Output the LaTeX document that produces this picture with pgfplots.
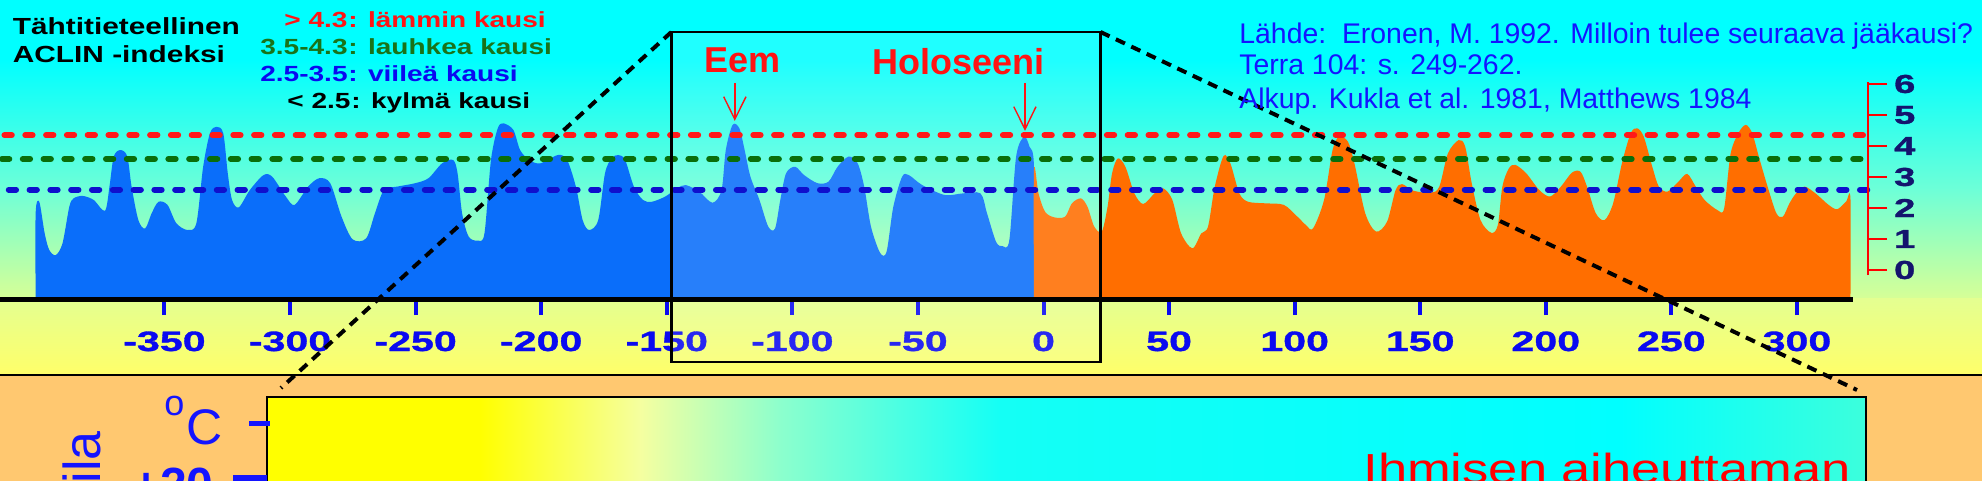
\documentclass[border=0pt]{standalone}
\usepackage{fontspec}
\setmainfont{Liberation Sans}
\newfontfamily\wideA{Liberation Sans}[FakeStretch=1.28]
\newfontfamily\wideB{Liberation Sans}[FakeStretch=1.47, FakeBold=1.2]
\newfontfamily\wideC{Liberation Sans}[FakeStretch=1.25]
\usepackage{pgfplots}
\pgfplotsset{compat=1.18}

\definecolor{cyanbg}{RGB}{0,255,255}
\definecolor{bgB}{RGB}{110,255,215}
\definecolor{bgC}{RGB}{215,255,150}
\definecolor{bgD}{RGB}{228,255,145}
\definecolor{bgE}{RGB}{255,255,105}
\definecolor{peach}{RGB}{255,200,112}
\definecolor{pyellow}{RGB}{255,255,0}
\definecolor{fillblue}{RGB}{10,110,250}
\definecolor{fillorange}{RGB}{255,110,0}
\definecolor{lred}{RGB}{255,25,25}
\definecolor{lgreen}{RGB}{10,110,10}
\definecolor{lblue}{RGB}{15,15,205}
\definecolor{tickblue}{RGB}{10,10,240}
\definecolor{txtblue}{RGB}{20,20,255}
\definecolor{navy}{RGB}{20,20,110}
\definecolor{legred}{RGB}{255,20,20}
\definecolor{leggreen}{RGB}{25,115,25}
\definecolor{ibA}{RGB}{245,255,160}
\definecolor{ibB}{RGB}{140,255,205}
\definecolor{ibC}{RGB}{20,255,245}
\definecolor{ibD}{RGB}{60,255,220}
\definecolor{pred}{RGB}{255,0,0}

\begin{document}
\begin{tikzpicture}
\useasboundingbox (0,0) rectangle (991pt,-240.5pt);
\clip (0,0) rectangle (991pt,-240.5pt);
% ---------- backgrounds (pixel coordinates) ----------
\begin{scope}[x=0.5pt,y=-0.5pt]
\fill[cyanbg] (0,0) rectangle (1982,60);
\shade[top color=cyanbg, bottom color=bgB] (0,59.5) rectangle (1982,190);
\shade[top color=bgB, bottom color=bgC] (0,189.5) rectangle (1982,299);
\shade[top color=bgD, bottom color=bgE] (0,298.5) rectangle (1982,375);
\fill[peach] (0,375) rectangle (1982,481);
\draw[black, line width=0.8pt] (0,375) -- (1982,375);
% inner box of the lower panel
\fill[pyellow] (267,397) rectangle (481,485);
\shade[left color=pyellow, right color=ibA] (480,397) rectangle (641,485);
\shade[left color=ibA, right color=ibB] (640,397) rectangle (781,485);
\shade[left color=ibB, right color=ibC] (780,397) rectangle (1001,485);
\shade[left color=ibC, right color=cyanbg] (1000,397) rectangle (1621,485);
\shade[left color=cyanbg, right color=ibD] (1620,397) rectangle (1866,485);
\draw[black, line width=0.7pt] (267,490) -- (267,397) -- (1866,397) -- (1866,490);
% lower panel texts
\node[rotate=90, anchor=base east, inner sep=0, text=txtblue, font=\fontsize{26}{26}\selectfont] at (100,431) {Lämpötila};
\node[anchor=base west, inner sep=0, text=txtblue, font=\fontsize{18}{18}\selectfont] at (164,415) {o};
\node[anchor=base west, inner sep=0, text=txtblue, font=\fontsize{25}{25}\selectfont] at (186,444) {C};
\fill[txtblue] (249,421) rectangle (270,426);
\fill[txtblue] (233,475) rectangle (267,485);
\node[anchor=base east, inner sep=0, text=txtblue, font=\bfseries\fontsize{24}{24}\selectfont] at (214,501) {+20};
\node[anchor=base west, inner sep=0, text=pred, font=\wideC\fontsize{21}{21}\selectfont] at (1363,483) {Ihmisen aiheuttaman};
\end{scope}

% ---------- main ACLIN axis ----------
\begin{axis}[
  at={(0pt,-149.5pt)}, anchor=south west,
  scale only axis, width=991pt, height=149.5pt,
  xmin=-415.49, xmax=373.68, ymin=-0.9355, ymax=8.7097,
  clip=false,
  axis x line*=bottom, axis y line=none,
  x axis line style={draw=none},
  xtick={-350,-300,-250,-200,-150,-100,-50,0,50,100,150,200,250,300},
  xticklabels={-350,-300,-250,-200,-150,-100,-50,0,50,100,150,200,250,300},
  xtick style={draw=tickblue, line width=2pt},
  tick align=outside, major tick length=8pt,
  xticklabel style={font=\wideB\bfseries\fontsize{14}{14}\selectfont, text=tickblue, anchor=base, yshift=-18pt},
]
% past index, blue
\addplot[fill=fillblue, draw=none, smooth, tension=0.5] coordinates {
(-401.3,-0.9) (-401.3,1.83) (-399.85,2.20) (-397.7,1.18) (-395.9,0.65) (-393.3,0.48) (-390.6,0.86) (-387.9,2.04) (-386.2,2.31) (-382.6,2.39) (-378.2,2.26) (-373.7,1.91) (-371.9,2.69) (-370.2,3.66) (-367.5,3.87) (-364.8,3.66) (-363.1,2.69) (-360.4,1.61) (-357.7,1.34) (-355.1,1.83) (-352.4,2.20) (-348.8,2.10) (-345.3,1.51) (-340.8,1.29) (-337.3,1.51) (-334.6,3.33) (-331.9,4.41) (-329.3,4.62) (-326.6,4.41) (-324.8,3.12) (-323.1,2.26) (-320.4,2.02) (-316.0,2.58) (-310.6,3.06) (-307.1,3.01) (-301.7,2.37) (-298.2,2.10) (-292.8,2.69) (-288.4,2.96) (-284.0,2.80) (-279.5,1.72) (-275.1,0.99) (-269.7,1.02) (-266.2,1.83) (-262.6,2.58) (-257.3,2.69) (-250.2,2.80) (-244.9,2.96) (-239.5,3.44) (-235.1,3.55) (-233.3,3.12) (-231.5,1.83) (-228.9,1.08) (-225.3,0.95) (-222.6,1.18) (-220.0,3.55) (-217.3,4.57) (-215.0,4.73) (-211.1,4.52) (-208.4,3.87) (-204.8,3.55) (-200.4,3.44) (-193.3,3.71) (-189.7,3.55) (-186.2,2.69) (-183.5,1.61) (-180.9,1.29) (-177.3,1.61) (-174.6,3.12) (-172.0,3.60) (-169.3,3.71) (-166.6,3.55) (-163.1,2.69) (-159.5,2.26) (-156.0,2.20) (-150.6,2.37) (-146.0,2.63) (-142.5,2.74) (-137.1,2.53) (-131.8,2.17) (-128.2,2.58) (-126.5,3.87) (-123.8,4.68) (-121.1,4.57) (-119.0,3.87) (-116.7,3.01) (-113.1,2.26) (-109.6,1.40) (-106.9,1.34) (-104.8,2.26) (-102.5,3.12) (-98.9,3.33) (-95.3,3.06) (-90.0,2.80) (-85.6,2.85) (-82.0,3.33) (-77.6,3.66) (-74.0,3.44) (-71.4,2.69) (-68.7,1.40) (-65.1,0.56) (-62.5,0.59) (-59.8,2.04) (-56.3,3.01) (-53.6,3.06) (-48.3,2.74) (-39.4,2.42) (-32.2,2.47) (-25.1,2.47) (-22.5,1.83) (-18.9,0.91) (-16.3,0.77) (-13.6,0.97) (-10.9,3.66) (-7.7,4.30) (-5.6,3.98) (-3.8,3.33) (-3.8,-0.9)
};
% future index, orange
\addplot[fill=fillorange, draw=none, smooth, tension=0.5] coordinates {
(-3.8,-0.9) (-3.8,3.22) (-2.0,2.47) (0.6,1.88) (4.2,1.70) (8.6,1.72) (11.3,2.15) (14.9,2.31) (17.5,2.04) (20.2,1.40) (23.2,1.24) (25.5,2.04) (27.3,3.12) (29.6,3.60) (32.6,3.33) (36.2,2.47) (39.7,2.13) (44.2,2.47) (47.7,2.63) (51.3,2.26) (54.8,1.18) (59.3,0.70) (62.8,1.18) (65.5,1.40) (68.2,2.69) (71.7,3.68) (74.4,3.44) (78.0,2.47) (81.5,2.20) (88.6,2.15) (95.7,2.10) (101.1,1.72) (104.5,1.45) (107.3,1.34) (111.7,2.26) (115.1,3.87) (117.7,4.30) (121.2,4.14) (123.8,3.44) (128.1,1.83) (132.4,1.24) (136.8,1.56) (140.2,2.58) (142.8,2.77) (147.2,2.56) (154.1,2.49) (157.6,2.69) (161.0,3.76) (165.3,4.19) (167.9,3.98) (170.5,2.80) (174.0,1.61) (178.3,1.20) (180.9,1.45) (182.7,2.69) (185.3,3.28) (187.9,3.39) (192.2,3.12) (197.4,2.58) (201.7,2.37) (206.0,2.69) (210.4,3.14) (213.8,3.17) (216.4,2.69) (219.9,1.83) (223.4,1.61) (226.8,2.15) (230.3,3.44) (233.8,4.41) (236.4,4.57) (239.0,4.30) (242.4,3.33) (245.0,2.69) (248.5,2.53) (252.8,2.85) (256.3,3.10) (259.7,2.69) (263.2,2.26) (268.4,1.93) (271.0,1.99) (273.6,3.76) (277.0,4.46) (279.7,4.68) (282.2,4.41) (284.8,3.66) (288.3,2.69) (291.8,1.83) (294.4,1.72) (297.0,2.15) (299.6,2.47) (303.0,2.69) (307.4,2.47) (312.6,2.10) (316.0,1.96) (319.5,2.20) (321.3,2.30) (321.3,-0.9)
};
% lighter zoom window
\fill[white, opacity=0.12] (axis cs:-148.16,7.677) rectangle (axis cs:22.7,-2.968);
% threshold lines
\addplot[lred, line width=3pt, line cap=round, dash pattern=on 3.65pt off 6.75pt] coordinates {(-413.7,4.35) (327.3,4.35)};
\addplot[lgreen, line width=3pt, line cap=round, dash pattern=on 3.65pt off 6.75pt] coordinates {(-414.7,3.58) (326.5,3.58)};
\addplot[lblue, line width=3pt, line cap=round, dash pattern=on 3.65pt off 6.75pt] coordinates {(-412.0,2.59) (328.9,2.59)};
% baseline
\addplot[black, line width=2.5pt] coordinates {(-415.49,-0.9355) (322.3,-0.9355)};
\end{axis}

% ---------- red index scale ----------
\begin{axis}[
  at={(934pt,-137.5pt)}, anchor=south east,
  scale only axis, width=20pt, height=96.65pt,
  xmin=0, xmax=1, ymin=-0.1613, ymax=6.0742,
  axis x line=none, axis y line*=right,
  y axis line style={draw=red, line width=1pt},
  ytick={0,1,2,3,4,5,6}, yticklabels={0,1,2,3,4,5,6},
  ytick style={draw=red, line width=1pt},
  tick align=outside, major tick length=9.5pt,
  yticklabel style={font=\wideB\bfseries\fontsize{13}{13}\selectfont, text=navy},
]
\addplot[draw=none] coordinates {(0.5,0)};
\end{axis}

% ---------- overlays ----------
\begin{scope}[x=0.5pt,y=-0.5pt]
\draw[black, line width=1.2pt] (671.4,32) rectangle (1100.5,362);
\draw[black, line width=2pt, dash pattern=on 5pt off 3.5pt] (671.4,32) -- (281,388);
\draw[black, line width=2pt, dash pattern=on 5pt off 3.5pt] (1100.5,32) -- (1857,390);
% titles
\node[anchor=base west, inner sep=0, font=\wideA\bfseries\fontsize{11.65}{11.65}\selectfont] at (12.5,35) {Tähtitieteellinen};
\node[anchor=base west, inner sep=0, font=\wideA\bfseries\fontsize{11.65}{11.65}\selectfont] at (12.5,62.7) {ACLIN -indeksi};
\begin{scope}[every node/.style={inner sep=0, font=\wideA\bfseries\fontsize{10.95}{10.95}\selectfont}]
\node[anchor=base east, text=legred] at (348,27.3) {> 4.3};
\node[anchor=base west, text=legred] at (348,27.3) {: lämmin kausi};
\node[anchor=base east, text=leggreen] at (348,55) {3.5-4.3};
\node[anchor=base west, text=leggreen] at (348,55) {: lauhkea kausi};
\node[anchor=base east, text=tickblue] at (348,81.7) {2.5-3.5};
\node[anchor=base west, text=tickblue] at (348,81.7) {: viileä kausi};
\node[anchor=base east, text=black] at (351,108.3) {< 2.5};
\node[anchor=base west, text=black] at (351,108.3) {: kylmä kausi};
\end{scope}
\begin{scope}[every node/.style={inner sep=0, anchor=base west, text=txtblue, font=\fontsize{14.2}{14.2}\selectfont}]
\node at (1239,43.3) {Lähde:\ \ Eronen, M. 1992. Milloin tulee seuraava jääkausi?};
\node at (1239,75) {Terra 104: s. 249-262.};
\node at (1239,108.3) {Alkup. Kukla et al. 1981, Matthews 1984};
\end{scope}
% Eem and Holocene labels with arrows
\node[anchor=base west, inner sep=0, text=legred, font=\bfseries\fontsize{18}{18}\selectfont] at (703.6,72.7) {Eem};
\node[anchor=base west, inner sep=0, text=legred, font=\bfseries\fontsize{18}{18}\selectfont] at (872,75) {Holoseeni};
\draw[legred, line width=0.7pt] (734.8,83) -- (734.8,119);
\draw[legred, line width=0.7pt] (723.7,96.7) -- (734.8,119.3) -- (746,96.7);
\draw[legred, line width=0.7pt] (1025,83) -- (1025,129);
\draw[legred, line width=0.7pt] (1013.8,106.7) -- (1025,129.3) -- (1036,106.7);
\end{scope}
\end{tikzpicture}
\end{document}
